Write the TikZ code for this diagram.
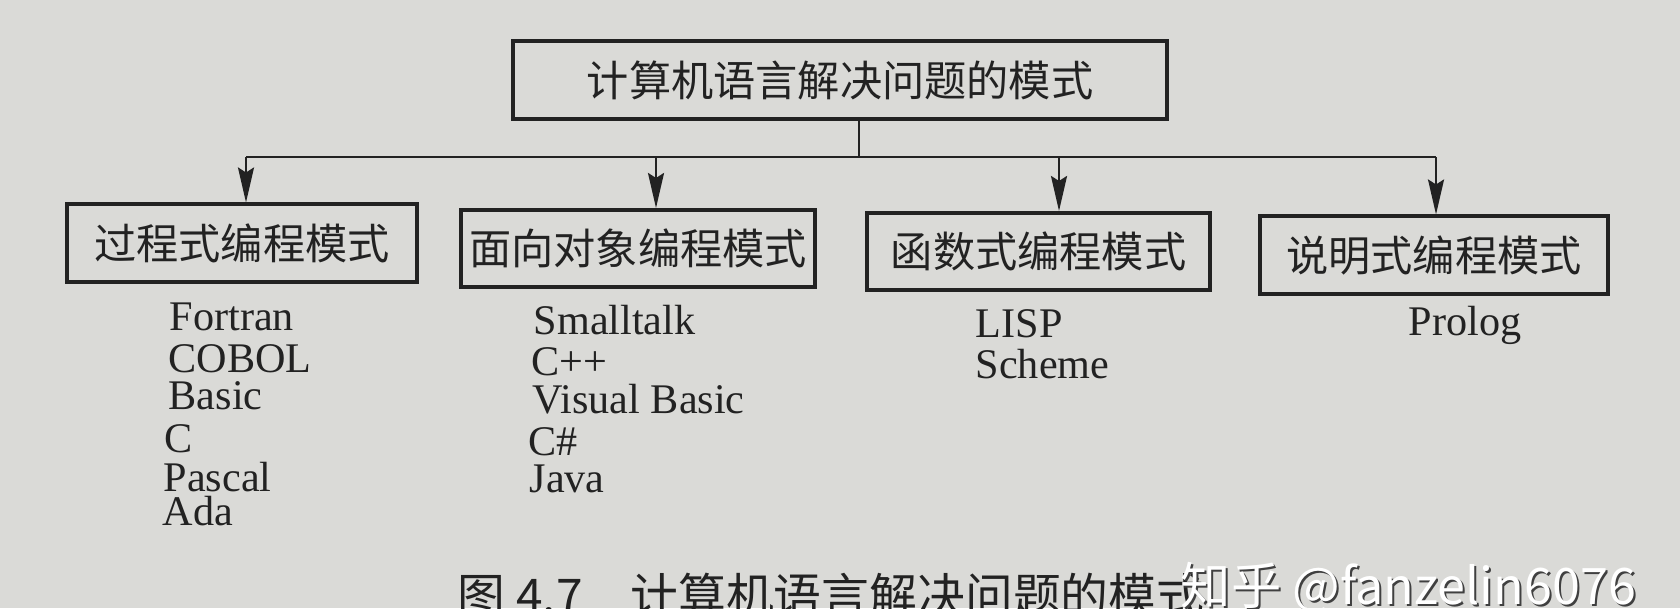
\documentclass[tikz,border=0pt]{standalone}
\usepackage{fontspec}
\setmainfont{Liberation Serif}
\newfontfamily\cjk{Noto Sans CJK SC}
\usetikzlibrary{arrows.meta}

\definecolor{paper}{RGB}{218,218,215}
\definecolor{ink}{RGB}{34,34,34}

\tikzset{
	modebox/.style = {draw = ink, line width = 0.04cm, minimum height = 0.77cm, inner sep = 0pt, text = ink, font = \cjk\fontsize{12}{14}\selectfont},
	langname/.style = {anchor = base west, inner sep = 0pt, text = ink, font = \fontsize{12}{14}\selectfont},
	branch/.style = {draw = ink, line width = 0.022cm},
	tip/.style = {-{Stealth[length = 3.5mm, width = 1.6mm, inset = 0.5mm]}},
}

\begin{document}
\begin{tikzpicture}[x = 0.01cm, y = -0.01cm]
					\fill [paper] (0,0) rectangle (1680,608);
					\useasboundingbox (0,0) rectangle (1680,608);
					
					\def\yb{157};
					
					\coordinate (hub) at (859,\yb);
					\coordinate (j1) at (246,\yb);
					\coordinate (j2) at (656,\yb);
					\coordinate (j3) at (1059,\yb);
					\coordinate (j4) at (1436,\yb);
					
					\begin{scope}
						\node [modebox, minimum width = 6.53cm] (root) at (840,80) {计算机语言解决问题的模式};
						
						\node [modebox, minimum width = 3.50cm] (proc) at (242,243) {过程式编程模式};
						\node [modebox, minimum width = 3.54cm] (oop) at (638,248.5) {面向对象编程模式};
						\node [modebox, minimum width = 3.43cm] (func) at (1038.5,251.5) {函数式编程模式};
						\node [modebox, minimum width = 3.48cm] (decl) at (1434,255) {说明式编程模式};
					\end{scope}
					
					\begin{scope}
						\draw [branch] (root.south -| hub) -- (hub);
						\draw [branch] (j1) -- (j4);
						\foreach \j/\b in {1/proc, 2/oop, 3/func, 4/decl}
							\draw [branch, tip] (j\j) -- (j\j |- \b.north);
					\end{scope}
					
					\begin{scope}
						\foreach \lang/\px/\py [count = \i] in {Fortran/169/330, COBOL/168/372, Basic/168/409, C/164/452, Pascal/163/491, Ada/162/525}
							\node [langname] (proc-\i) at (\px,\py) {\lang};
						\foreach \lang/\px/\py [count = \i] in {Smalltalk/533/334, C++/531/375, Visual Basic/532/413, C\#/528/455, Java/529/492}
							\node [langname] (oop-\i) at (\px,\py) {\lang};
						\foreach \lang/\px/\py [count = \i] in {LISP/975/337, Scheme/975/378}
							\node [langname] (func-\i) at (\px,\py) {\lang};
						\node [langname] (decl-1) at (1408,335) {Prolog};
					\end{scope}
					
					\node [anchor = base west, inner sep = 0pt, text = ink, font = \cjk\fontsize{13.6}{16}\selectfont] (caption) at (457,613) {图 4.7\quad 计算机语言解决问题的模式};
					
					\node [anchor = base west, inner sep = 0pt, text = black!75, font = \cjk\fontsize{14.3}{17}\selectfont] (wmshade) at (1182,606) {知乎 @fanzelin6076};
					\node [anchor = base west, inner sep = 0pt, text = white, font = \cjk\fontsize{14.3}{17}\selectfont] (wm) at (1180,604) {知乎 @fanzelin6076};
				\end{tikzpicture}
\end{document}
